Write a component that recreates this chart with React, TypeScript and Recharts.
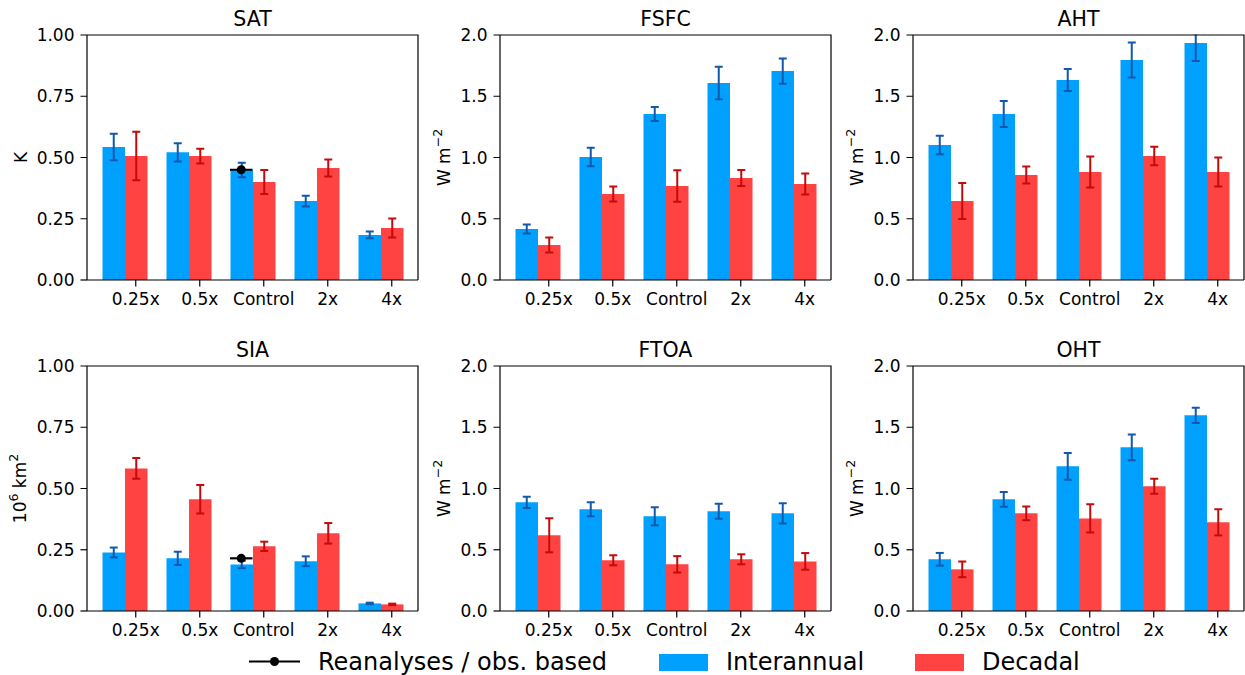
import React from "react";
import { ComposedChart, Bar, Line, XAxis, YAxis, ErrorBar } from "recharts";

const categories = ["0.25x", "0.5x", "Control", "2x", "4x"];

// SAT (K)
const satInter = [0.543, 0.521, 0.449, 0.322, 0.184];
const satInterErr = [0.054, 0.037, 0.03, 0.022, 0.014];
const satDec = [0.506, 0.506, 0.4, 0.457, 0.212];
const satDecErr = [0.099, 0.03, 0.049, 0.035, 0.039];
const satObs = [null, null, 0.45, null, null];

// FSFC (W m-2)
const fsfcInter = [0.416, 1.004, 1.355, 1.608, 1.706];
const fsfcInterErr = [0.037, 0.076, 0.057, 0.132, 0.103];
const fsfcDec = [0.286, 0.702, 0.767, 0.833, 0.784];
const fsfcDecErr = [0.061, 0.062, 0.129, 0.065, 0.086];

// AHT (W m-2)
const ahtInter = [1.102, 1.355, 1.633, 1.796, 1.935];
const ahtInterErr = [0.075, 0.107, 0.09, 0.143, 0.147];
const ahtDec = [0.645, 0.857, 0.882, 1.012, 0.882];
const ahtDecErr = [0.147, 0.069, 0.126, 0.076, 0.118];

// SIA (10^6 km2)
const siaInter = [0.239, 0.215, 0.19, 0.203, 0.031];
const siaInterErr = [0.02, 0.027, 0.015, 0.02, 0.003];
const siaDec = [0.582, 0.456, 0.264, 0.317, 0.027];
const siaDecErr = [0.042, 0.058, 0.019, 0.042, 0.003];
const siaObs = [null, null, 0.215, null, null];

// FTOA (W m-2)
const ftoaInter = [0.887, 0.83, 0.773, 0.814, 0.797];
const ftoaInterErr = [0.046, 0.057, 0.074, 0.061, 0.083];
const ftoaDec = [0.618, 0.414, 0.381, 0.422, 0.405];
const ftoaDecErr = [0.139, 0.041, 0.067, 0.041, 0.068];

// OHT (W m-2)
const ohtInter = [0.422, 0.912, 1.181, 1.336, 1.597];
const ohtInterErr = [0.052, 0.06, 0.109, 0.105, 0.063];
const ohtDec = [0.34, 0.797, 0.756, 1.018, 0.724];
const ohtDecErr = [0.064, 0.056, 0.115, 0.061, 0.107];

const ticksK = [0, 0.25, 0.5, 0.75, 1];
const ticksW = [0, 0.5, 1, 1.5, 2];

const BLUE = "#00a0ff";
const RED = "#ff4343";
const BLUE_ERR = "#1259ab";
const RED_ERR = "#c40a0a";
const INK = "#000";
const FONT = "'DejaVu Sans', sans-serif";

const PLOT_W = 331;
const PLOT_H = 245;
const AX_W = 80; // room left of the plot
const TOP = 35;
const BOTTOM = 45;
const BAR = 22.5;

type YLab = "K" | "W" | "SIA";

function YLabel({ kind, dist }: { kind: YLab; dist: number }) {
  const bx = AX_W - dist;
  const cy = TOP + PLOT_H / 2;
  let content: React.ReactNode;
  if (kind === "K") content = "K";
  else if (kind === "W")
    content = (
      <>
        W m
        <tspan dy={-8} fontSize={12.5}>
          −2
        </tspan>
      </>
    );
  else
    content = (
      <>
        10
        <tspan dy={-8} fontSize={12.5}>
          6
        </tspan>
        <tspan dy={8}> km</tspan>
        <tspan dy={-8} fontSize={12.5}>
          2
        </tspan>
      </>
    );
  return (
    <text
      x={bx}
      y={cy}
      transform={`rotate(-90 ${bx} ${cy})`}
      textAnchor="middle"
      fontSize={17}
      fill={INK}
      fontFamily={FONT}
    >
      {content}
    </text>
  );
}

function XTick(props: any) {
  const { x, y, payload } = props;
  const tx = x + BAR / 2;
  return (
    <g>
      <line x1={tx} x2={tx} y1={y} y2={y + 6.5} stroke={INK} strokeWidth={1.2} />
      <text x={tx} y={y + 25} textAnchor="middle" fontSize={17} fill={INK} fontFamily={FONT}>
        {payload.value}
      </text>
    </g>
  );
}

function ObsDot(props: any) {
  const { cx, cy, payload } = props;
  if (payload == null || payload.obs == null || cy == null) return <g />;
  return (
    <g>
      <line x1={cx - BAR} x2={cx} y1={cy} y2={cy} stroke={INK} strokeWidth={2.2} />
      <circle cx={cx - BAR / 2} cy={cy} r={4.5} fill={INK} />
    </g>
  );
}

interface PanelProps {
  title: string;
  left: number;
  top: number;
  inter: number[];
  interErr: number[];
  dec: number[];
  decErr: number[];
  obs?: (number | null)[];
  ticks: number[];
  digits: number;
  ylab: YLab;
  labDist: number;
}

function Panel(p: PanelProps) {
  const max = p.ticks[p.ticks.length - 1];
  const data = categories.map((c, i) => ({
    cat: c,
    inter: p.inter[i],
    interErr: p.interErr[i],
    dec: p.dec[i],
    decErr: p.decErr[i],
    obs: p.obs ? p.obs[i] : null,
  }));
  const W = AX_W + PLOT_W + 1;
  const H = TOP + PLOT_H + BOTTOM;
  // keep error bars from spilling above the frame (matplotlib clips to the axes)
  const clip = `polygon(0px 0px, ${AX_W}px 0px, ${AX_W}px ${TOP - 0.5}px, ${W}px ${TOP - 0.5}px, ${W}px ${H}px, 0px ${H}px)`;
  return (
    <div style={{ position: "absolute", left: p.left - AX_W, top: p.top - TOP, width: W, height: H }}>
      <div style={{ position: "absolute", left: 0, top: 0, clipPath: clip }}>
        <ComposedChart
          width={W}
          height={H}
          data={data}
          margin={{ top: TOP, right: 1, bottom: 0, left: 0 }}
          barGap={0}
        >
          <XAxis
            dataKey="cat"
            height={BOTTOM}
            padding={{ left: 5.5, right: 5.5 }}
            interval={0}
            axisLine={{ stroke: INK, strokeWidth: 1.2 }}
            tickLine={false}
            tickSize={0}
            tickMargin={0}
            tick={<XTick />}
          />
          <YAxis
            width={AX_W}
            domain={[0, max]}
            ticks={p.ticks}
            allowDataOverflow
            axisLine={{ stroke: INK, strokeWidth: 1.2 }}
            tickLine={{ stroke: INK, strokeWidth: 1.2 }}
            tickSize={6.5}
            tickMargin={6}
            tick={{ fontSize: 17, fill: INK, fontFamily: FONT }}
            tickFormatter={(v: number) => v.toFixed(p.digits)}
            label={{ content: () => <YLabel kind={p.ylab} dist={p.labDist} /> }}
          />
          <Bar dataKey="inter" fill={BLUE} barSize={BAR} isAnimationActive={false}>
            <ErrorBar dataKey="interErr" direction="y" width={4} stroke={BLUE_ERR} strokeWidth={2} />
          </Bar>
          <Bar dataKey="dec" fill={RED} barSize={BAR} isAnimationActive={false}>
            <ErrorBar dataKey="decErr" direction="y" width={4} stroke={RED_ERR} strokeWidth={2} />
          </Bar>
          {p.obs && (
            <Line
              dataKey="obs"
              stroke="none"
              dot={<ObsDot />}
              activeDot={false}
              isAnimationActive={false}
            />
          )}
        </ComposedChart>
      </div>
      <svg
        width={W}
        height={H}
        style={{ position: "absolute", left: 0, top: 0, pointerEvents: "none" }}
      >
        <text
          x={AX_W + PLOT_W / 2}
          y={TOP - 9.5}
          textAnchor="middle"
          fontSize={20.5}
          fill={INK}
          fontFamily={FONT}
        >
          {p.title}
        </text>
        <polyline
          points={`${AX_W},${TOP} ${AX_W + PLOT_W},${TOP} ${AX_W + PLOT_W},${TOP + PLOT_H}`}
          fill="none"
          stroke={INK}
          strokeWidth={1.2}
        />
      </svg>
    </div>
  );
}

function Legend() {
  return (
    <svg
      width={1245}
      height={675}
      style={{ position: "absolute", left: 0, top: 0, pointerEvents: "none" }}
    >
      <g fontFamily={FONT} fontSize={24} fill={INK}>
        <line x1={249} x2={300} y1={661.5} y2={661.5} stroke={INK} strokeWidth={2.2} />
        <circle cx={274.5} cy={661.5} r={4.5} fill={INK} />
        <text x={318} y={670}>Reanalyses / obs. based</text>
        <rect x={659} y={654} width={49} height={17} fill={BLUE} />
        <text x={726} y={670}>Interannual</text>
        <rect x={915} y={654} width={49} height={17} fill={RED} />
        <text x={982} y={670}>Decadal</text>
      </g>
    </svg>
  );
}

export default function App() {
  const cols = [87, 500, 913];
  const rows = [35, 366];
  return (
    <div
      style={{
        position: "absolute",
        left: 0,
        top: 0,
        width: 1245,
        height: 675,
        background: "#fff",
        fontFamily: FONT,
      }}
    >
      <Panel title="SAT" left={cols[0]} top={rows[0]} inter={satInter} interErr={satInterErr}
        dec={satDec} decErr={satDecErr} obs={satObs} ticks={ticksK} digits={2} ylab="K" labDist={60} />
      <Panel title="FSFC" left={cols[1]} top={rows[0]} inter={fsfcInter} interErr={fsfcInterErr}
        dec={fsfcDec} decErr={fsfcDecErr} ticks={ticksW} digits={1} ylab="W" labDist={50} />
      <Panel title="AHT" left={cols[2]} top={rows[0]} inter={ahtInter} interErr={ahtInterErr}
        dec={ahtDec} decErr={ahtDecErr} ticks={ticksW} digits={1} ylab="W" labDist={50.5} />
      <Panel title="SIA" left={cols[0]} top={rows[1]} inter={siaInter} interErr={siaInterErr}
        dec={siaDec} decErr={siaDecErr} obs={siaObs} ticks={ticksK} digits={2} ylab="SIA" labDist={61.5} />
      <Panel title="FTOA" left={cols[1]} top={rows[1]} inter={ftoaInter} interErr={ftoaInterErr}
        dec={ftoaDec} decErr={ftoaDecErr} ticks={ticksW} digits={1} ylab="W" labDist={50} />
      <Panel title="OHT" left={cols[2]} top={rows[1]} inter={ohtInter} interErr={ohtInterErr}
        dec={ohtDec} decErr={ohtDecErr} ticks={ticksW} digits={1} ylab="W" labDist={50.5} />
      <Legend />
    </div>
  );
}
